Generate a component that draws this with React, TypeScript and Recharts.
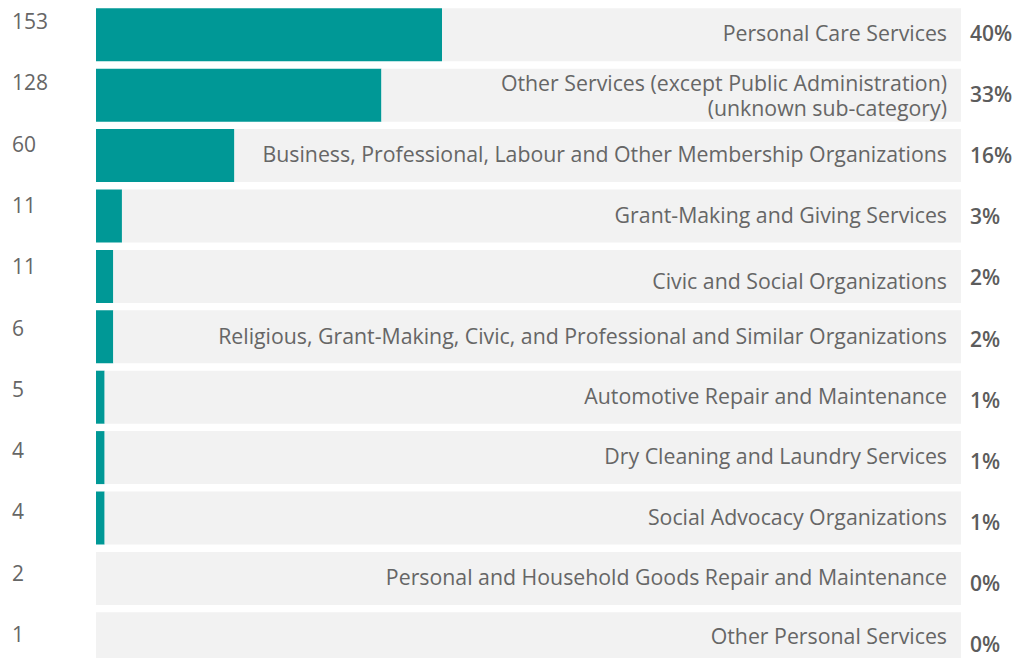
import React from 'react';
import { BarChart, Bar, XAxis, YAxis } from 'recharts';

const categories = [
  'Personal Care Services',
  'Other Services (except Public Administration)|(unknown sub-category)',
  'Business, Professional, Labour and Other Membership Organizations',
  'Grant-Making and Giving Services',
  'Civic and Social Organizations',
  'Religious, Grant-Making, Civic, and Professional and Similar Organizations',
  'Automotive Repair and Maintenance',
  'Dry Cleaning and Laundry Services',
  'Social Advocacy Organizations',
  'Personal and Household Goods Repair and Maintenance',
  'Other Personal Services',
];
const counts = [153, 128, 60, 11, 11, 6, 5, 4, 4, 2, 1];
const shares = [40, 33, 16, 3, 2, 2, 1, 1, 1, 0, 0];

// the grey track is the remainder up to 100%
const data = categories.map((name, i) => ({
  name,
  count: counts[i],
  share: shares[i],
  rest: 100 - shares[i],
}));

const FONT = '"Open Sans", sans-serif';
const TEXT = '#666666';
const TRACK_RIGHT = 961;
// small per-row baseline tweaks for the category text, as in the original
const nameNudge: Record<number, number> = { 0: -1, 4: 5.5, 10: -2 };

const RowTick = (props: any) => {
  const { y, payload } = props;
  const i = payload.index;
  const row = data[i];
  const lines = row.name.split('|');
  return (
    <g>
      <text x={12} y={y - 5.5 + 0.9 * i} fill={TEXT} fontSize={21} fontFamily={FONT}>
        {row.count}
      </text>
      {lines.length === 1 ? (
        <text x={TRACK_RIGHT - 14} y={y + 7 + (nameNudge[i] || 0)} textAnchor="end" fill={TEXT} fontSize={21.3} fontFamily={FONT}>
          {lines[0]}
        </text>
      ) : (
        <text textAnchor="end" fill={TEXT} fontSize={21.3} fontFamily={FONT}>
          <tspan x={TRACK_RIGHT - 14} y={y - 3.5}>{lines[0]}</tspan>
          <tspan x={TRACK_RIGHT - 14} y={y + 21.5}>{lines[1]}</tspan>
        </text>
      )}
      <text x={970} y={y + 6.5 + 0.7 * i} fill="#5c5c5c" fontSize={21} fontWeight={600} fontFamily={FONT}>
        {row.share}%
      </text>
    </g>
  );
};

export default function App() {
  return (
    <div style={{ position: 'fixed', left: 0, top: 0, width: 1031, height: 658, overflow: 'hidden', background: '#fff' }}>
      <BarChart
        width={1031}
        height={669}
        data={data}
        layout="vertical"
        margin={{ top: 4.3, right: 70, bottom: 0.3, left: 0 }}
      >
        <XAxis type="number" domain={[0, 100]} hide />
        <YAxis
          type="category"
          dataKey="name"
          width={96}
          axisLine={false}
          tickLine={false}
          interval={0}
          tick={<RowTick />}
        />
        <Bar dataKey="share" stackId="row" fill="#009896" barSize={53} isAnimationActive={false} />
        <Bar dataKey="rest" stackId="row" fill="#f2f2f2" barSize={53} isAnimationActive={false} />
      </BarChart>
    </div>
  );
}
